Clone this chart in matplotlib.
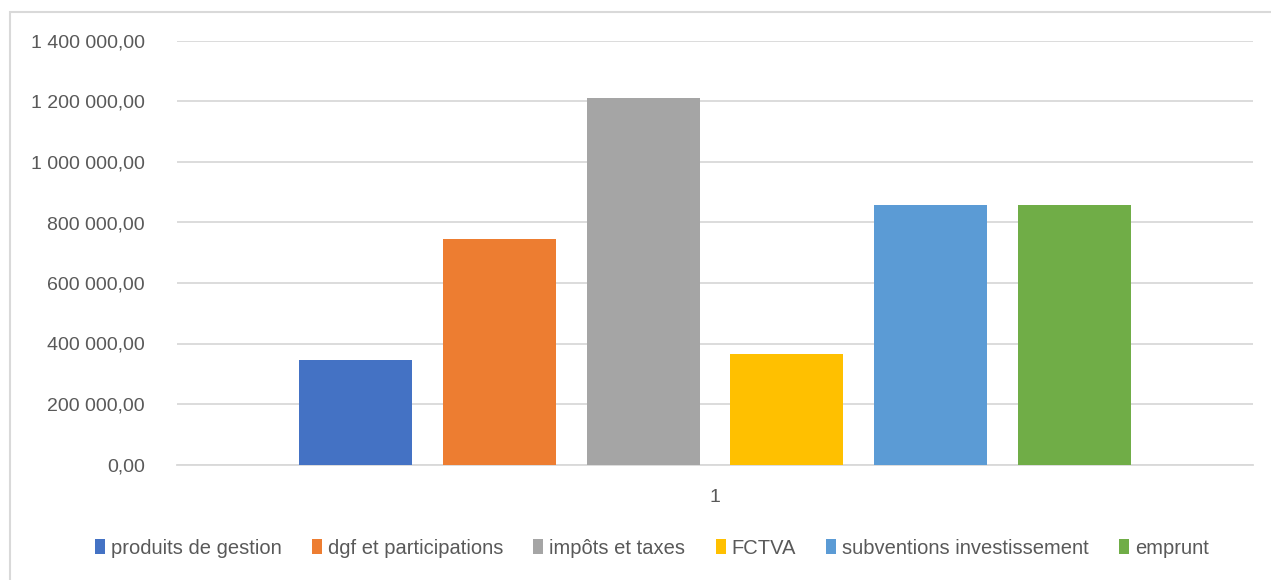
import numpy as np
import matplotlib
matplotlib.use("Agg")
import matplotlib.pyplot as plt
from matplotlib.patches import Rectangle
from matplotlib.ticker import FuncFormatter

# series (one category "1")
labels = ["produits de gestion", "dgf et participations", "impôts et taxes",
          "FCTVA", "subventions investissement", "emprunt"]
values = [345500, 745500, 1211600, 365300, 858000, 858000]
colors = ["#4472C4", "#ED7D31", "#A5A5A5", "#FFC000", "#5B9BD5", "#70AD47"]
category = ["1"]

plt.rcParams['font.family'] = ['Liberation Sans', 'DejaVu Sans']
txt = "#595959"

def fr_fmt(v, pos):
    s = "{:,.2f}".format(v).replace(",", " ").replace(".", ",")
    return s

fig = plt.figure(figsize=(12.71, 5.80), dpi=100)
ax = fig.add_axes([177/1271, 1-464.5/580, 1076/1271, (464.5-41)/580])

pitch = 0.1335
w = 0.105
for i, (lab, v, c) in enumerate(zip(labels, values, colors)):
    ax.bar(0 + (i-2.5)*pitch, v, width=w, color=c, label=lab, zorder=3)

ax.set_xlim(-0.5, 0.5)
ax.set_ylim(0, 1400000)
ax.set_yticks(np.arange(0, 1400001, 200000))
ax.yaxis.set_major_formatter(FuncFormatter(fr_fmt))
ax.set_xticks([0])
ax.set_xticklabels(category)
ax.grid(axis='y', color='#D9D9D9', lw=1.3, zorder=0)
for s in ['top', 'right', 'left']:
    ax.spines[s].set_visible(False)
ax.spines['bottom'].set_color('#D9D9D9')
ax.spines['bottom'].set_linewidth(1.3)
ax.tick_params(axis='y', length=0, pad=23, labelsize=14, labelcolor=txt)
ax.tick_params(axis='x', length=0, pad=18, labelsize=14, labelcolor=txt)

leg = fig.legend(loc='center', bbox_to_anchor=(652/1271, 1-548/580), ncol=6,
                 frameon=False, fontsize=14.5, handlelength=0.5, handleheight=0.7,
                 handletextpad=0.3, columnspacing=1.5, labelcolor=txt)

# chart area border (partly cut off at right/bottom)
fig.patches.append(Rectangle((10/1271, -0.1), 1.2, 1-12/580+0.1, transform=fig.transFigure,
                             fill=False, edgecolor='#D9D9D9', lw=1.5))

fig.savefig("out.png", dpi=100)
